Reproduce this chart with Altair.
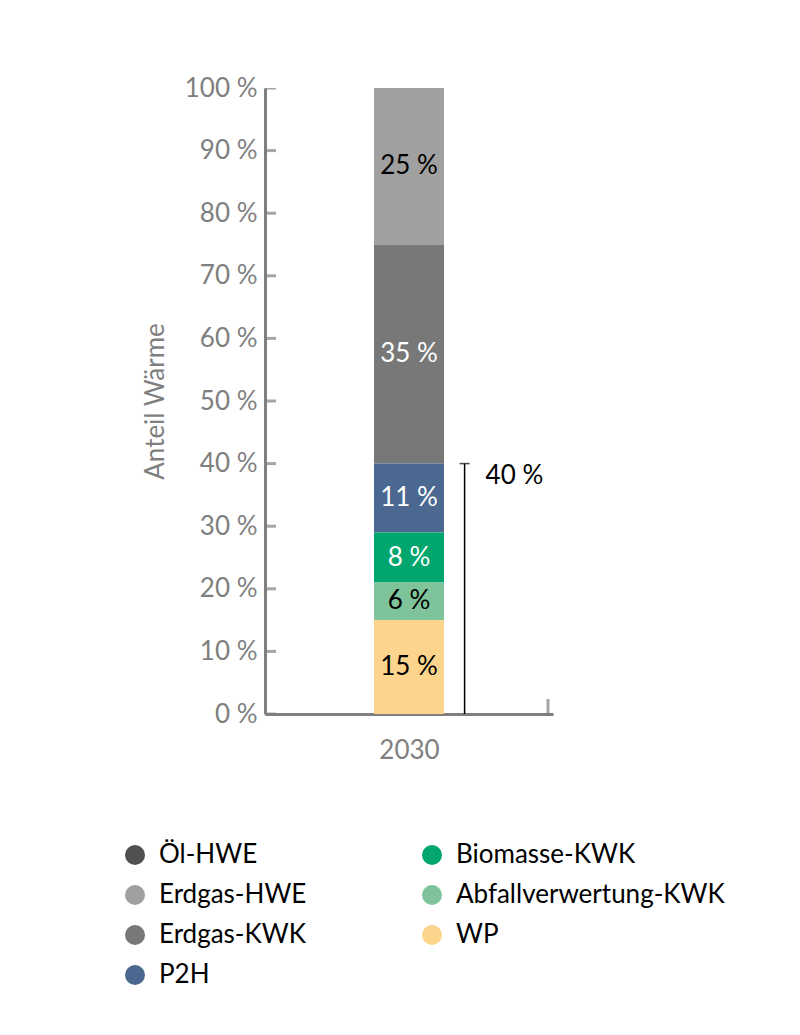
import altair as alt
import pandas as pd

# ---- data ----
categories = ["Öl-HWE", "Erdgas-HWE", "Erdgas-KWK", "P2H",
              "Biomasse-KWK", "Abfallverwertung-KWK", "WP"]
values_2030 = [0, 25, 35, 11, 8, 6, 15]
stack_rank = [7, 6, 5, 4, 3, 2, 1]          # bottom-up order of the stack
colors = ["#505050", "#a0a0a0", "#787878", "#4a6890",
          "#00a66e", "#7fc39b", "#fdd48b"]
year_label = "2030"
bracket_value = 40
y_tick_values = [0, 10, 20, 30, 40, 50, 60, 70, 80, 90, 100]
white_text = ["Erdgas-KWK", "P2H", "Biomasse-KWK"]

df = pd.DataFrame({"cat": categories, "value": values_2030, "rank": stack_rank})
ticks_df = pd.DataFrame({"t": y_tick_values})

FONT = "Lato"
FS = 26
GREY = "#7f7f7f"
BAR_X = 5       # position of the bar on the hidden 0..10 x scale
BRACKET_X = 7

xscale = alt.Scale(domain=[0, 10], nice=False, zero=False)
yscale = alt.Scale(domain=[0, 100], nice=False)

base = alt.Chart(df)

bars = base.mark_bar(size=70).encode(
    x=alt.X("xpos:Q", scale=xscale,
            axis=alt.Axis(values=[BAR_X], labelExpr=f"'{year_label}'", title=None,
                          grid=False, ticks=False, domainColor=GREY, domainWidth=3,
                          labelColor=GREY, labelFontSize=FS, labelFont=FONT,
                          labelPadding=23)),
    y=alt.Y("value:Q", stack="zero", scale=yscale,
            axis=alt.Axis(values=y_tick_values, labelExpr="datum.value + ' %'",
                          title="Anteil Wärme", titleFontSize=FS, titleFont=FONT,
                          titleColor=GREY, titleFontWeight="normal", titlePadding=16,
                          grid=False, ticks=False, domainColor=GREY, domainWidth=3,
                          labelColor=GREY, labelFontSize=FS, labelFont=FONT,
                          labelPadding=8)),
    color=alt.Color("cat:N", scale=alt.Scale(domain=categories, range=colors),
                    legend=alt.Legend(title=None, orient="none", legendX=-143, legendY=754,
                                      columns=2, symbolType="circle", symbolSize=400,
                                      symbolStrokeWidth=0, labelFontSize=FS, labelFont=FONT,
                                      labelColor="black", columnPadding=112, rowPadding=14,
                                      labelOffset=11, labelLimit=400)),
    order=alt.Order("rank:Q", sort="ascending"),
).transform_calculate(xpos=str(BAR_X))

labels = base.transform_filter("datum.value > 0").transform_stack(
    stack="value", groupby=[], sort=[alt.SortField("rank", order="ascending")],
    as_=["y0", "y1"]
).transform_calculate(
    mid="(datum.y0 + datum.y1) / 2", txt="datum.value + ' %'", xpos=str(BAR_X)
).mark_text(fontSize=FS, font=FONT).encode(
    x=alt.X("xpos:Q", scale=xscale),
    y=alt.Y("mid:Q", scale=yscale),
    text="txt:N",
    color=alt.condition(
        "indexof(" + str(white_text).replace("'", '"') + ", datum.cat) >= 0",
        alt.value("white"), alt.value("black")),
)

yticks = alt.Chart(ticks_df).mark_tick(orient="horizontal", size=12, thickness=3,
                                       color=GREY, clip=True).encode(
    x=alt.datum(0, scale=xscale), y=alt.Y("t:Q", scale=yscale))

xend = alt.Chart(ticks_df).mark_tick(orient="vertical", size=30, thickness=3,
                                     color=GREY, clip=True).encode(
    x=alt.datum(10), y=alt.datum(0)).transform_filter("datum.t == 0")

bracket = alt.Chart(ticks_df).transform_filter("datum.t == 0").mark_rule(
    color="black", strokeWidth=1.5).encode(
    x=alt.datum(BRACKET_X), y=alt.datum(0), y2=alt.datum(bracket_value))

cap = alt.Chart(ticks_df).transform_filter("datum.t == 0").mark_tick(
    orient="horizontal", size=10, thickness=1.5, color="black").encode(
    x=alt.datum(BRACKET_X), y=alt.datum(bracket_value))

blabel = alt.Chart(ticks_df).transform_filter("datum.t == 0").mark_text(
    align="left", baseline="middle", fontSize=FS, font=FONT, color="black", dx=21).encode(
    x=alt.datum(BRACKET_X), y=alt.datum(bracket_value - 2), text=alt.value(f"{bracket_value} %"))

chart = alt.layer(bars, labels, yticks, xend, bracket, cap, blabel).properties(
    width=288, height=626,
    padding={"left": 265, "top": 88, "right": 247, "bottom": 321},
    autosize=alt.AutoSizeParams(type="none"),
).configure_view(stroke=None)

chart.save("out.html", embed_options={"renderer": "svg", "actions": False})
